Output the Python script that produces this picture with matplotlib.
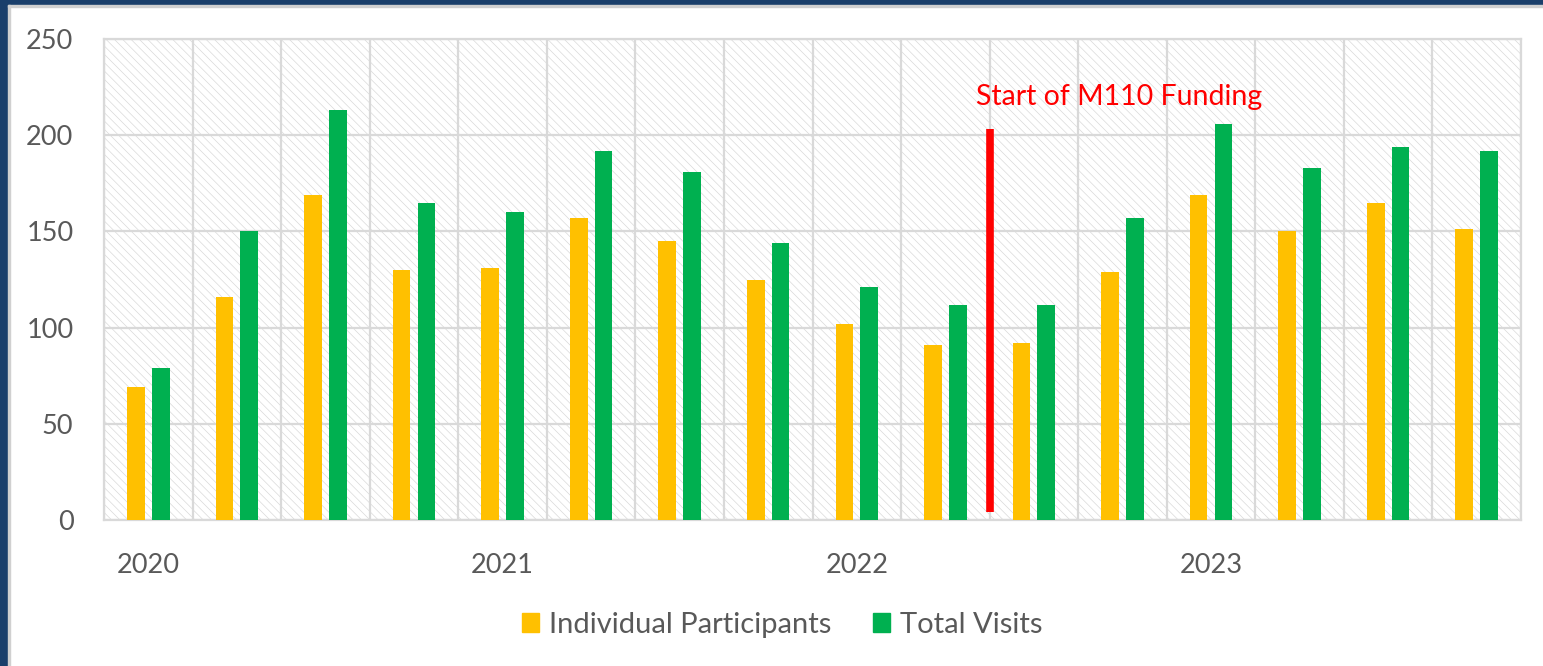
import numpy as np
import matplotlib
matplotlib.use("Agg")
from matplotlib import pyplot as plt
from matplotlib.patches import Rectangle, Patch

plt.rcParams['font.family'] = ['Lato', 'DejaVu Sans']
plt.rcParams['hatch.linewidth'] = 0.5
plt.rcParams['hatch.color'] = '#d9d9d9'

# quarterly data 2020-2023
quarters = ['2020 Q1', '2020 Q2', '2020 Q3', '2020 Q4',
            '2021 Q1', '2021 Q2', '2021 Q3', '2021 Q4',
            '2022 Q1', '2022 Q2', '2022 Q3', '2022 Q4',
            '2023 Q1', '2023 Q2', '2023 Q3', '2023 Q4']
participants = [69, 116, 169, 130, 131, 157, 145, 125, 102, 91, 92, 129, 169, 150, 165, 151]
visits = [79, 150, 213, 165, 160, 192, 181, 144, 121, 112, 112, 157, 206, 183, 194, 192]
year_labels = ['2020', '2021', '2022', '2023']
year_pos = [0, 4, 8, 12]
funding_pos = 9.5
funding_range = (4, 203)

grey_txt = '#595959'
grid_c = '#d9d9d9'

fig = plt.figure(figsize=(15.43, 6.66), dpi=100)
# dark blue frame on left and top
fig.patches.append(Rectangle((0, 0), 8/1543, 1, transform=fig.transFigure, color='#1a3f6b', zorder=0))
fig.patches.append(Rectangle((0, 1 - 5/666), 1, 5/666, transform=fig.transFigure, color='#1a3f6b', zorder=0))
fig.patches.append(Rectangle((8/1543, 0), 2/1543, 1 - 5/666, transform=fig.transFigure, color='#d0d0d0', zorder=0))
fig.patches.append(Rectangle((8/1543, 1 - 7/666), 1, 2/666, transform=fig.transFigure, color='#d0d0d0', zorder=0))

ax = fig.add_axes([104/1543, (666-520)/666, (1521-104)/1543, (520-39)/666])
x = np.arange(len(quarters))
ax.set_xlim(-0.5, len(quarters) - 0.5)
ax.set_ylim(0, 250)

# hatched plot area background
ax.add_patch(Rectangle((0, 0), 1, 1, transform=ax.transAxes, facecolor='white',
                       edgecolor='#d9d9d9', hatch='\\\\\\\\', linewidth=0, zorder=0))

ax.set_yticks(np.arange(0, 251, 50))
ax.set_xticks(year_pos)
ax.set_xticklabels(year_labels)
ax.set_xticks(np.arange(-0.5, len(quarters), 1), minor=True)
ax.grid(axis='y', which='major', color=grid_c, linewidth=1.6, zorder=1)
ax.grid(axis='x', which='minor', color=grid_c, linewidth=1.6, zorder=1)
ax.tick_params(axis='both', which='both', length=0, colors=grey_txt, labelsize=19.5)
ax.tick_params(axis='x', pad=24)
ax.tick_params(axis='y', pad=22)
for s in ax.spines.values():
    s.set_color(grid_c)
    s.set_linewidth(1.6)

w = 0.2
ax.bar(x - 0.14, participants, w, color='#FFC000', zorder=3, label='Individual Participants')
ax.bar(x + 0.14, visits, w, color='#00B050', zorder=3, label='Total Visits')

ax.plot([funding_pos, funding_pos], funding_range, color='#FF0000', linewidth=5.5,
        solid_capstyle='butt', zorder=4)
ax.text(funding_pos - 0.15, 213, 'Start of M110 Funding', color='#FF0000', fontsize=20.5,
        ha='left', va='bottom', zorder=5)

handles = [Patch(color='#FFC000'), Patch(color='#00B050')]
fig.legend(handles, ['Individual Participants', 'Total Visits'], loc='center',
           bbox_to_anchor=(0.507, (666-625)/666), ncol=2, frameon=False, fontsize=21,
           labelcolor=grey_txt, handlelength=0.6, handleheight=0.6, handletextpad=0.35,
           columnspacing=1.4)

fig.savefig('out.png', dpi=100, facecolor='white')
